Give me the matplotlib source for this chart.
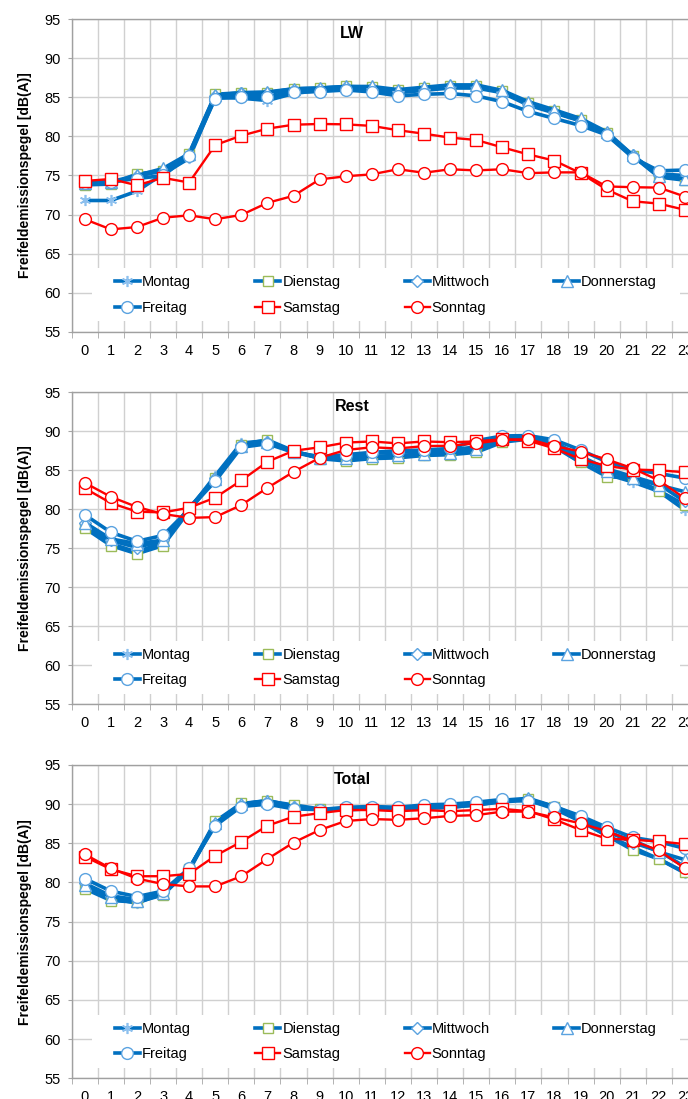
import matplotlib
matplotlib.use("Agg")
import matplotlib.pyplot as plt
from matplotlib.patches import Rectangle
import numpy as np

plt.rcParams['font.family'] = ['Liberation Sans', 'DejaVu Sans']

hours = list(range(24))
hour_labels = [str(h) for h in hours]
y_ticks = [55, 60, 65, 70, 75, 80, 85, 90, 95]
series_names = ["Montag", "Dienstag", "Mittwoch", "Donnerstag", "Freitag", "Samstag", "Sonntag"]
panel_titles = ["LW", "Rest", "Total"]
y_label = "Freifeldemissionspegel [dB(A)]"

# ---- LW ----
lw_montag = [71.8, 71.8, 73.0, 75.2, 77.2, 85.0, 84.9, 84.6, 85.5, 85.9, 86.1, 86.0, 85.6, 85.9, 86.2, 86.2, 85.6, 84.0, 83.0, 82.0, 80.3, 77.4, 75.2, 75.0]
lw_dienstag = [73.8, 73.9, 75.2, 75.6, 77.8, 85.4, 85.6, 85.6, 86.1, 86.2, 86.4, 86.3, 85.9, 86.2, 86.5, 86.5, 85.8, 84.3, 83.2, 82.1, 80.4, 77.5, 74.8, 74.4]
lw_mittwoch = [74.0, 74.1, 74.9, 75.6, 77.6, 85.2, 85.5, 85.5, 86.0, 86.1, 86.3, 86.2, 85.8, 86.1, 86.4, 86.4, 85.7, 84.2, 83.1, 82.0, 80.4, 77.6, 75.0, 74.8]
lw_donnerstag = [74.1, 74.2, 75.0, 75.9, 77.8, 85.3, 85.6, 85.7, 86.1, 86.2, 86.4, 86.4, 86.0, 86.3, 86.6, 86.6, 85.9, 84.45, 83.4, 82.3, 80.6, 77.6, 74.9, 74.6]
lw_freitag = [74.0, 74.2, 74.6, 75.0, 77.5, 84.85, 85.1, 85.1, 85.65, 85.75, 85.95, 85.7, 85.2, 85.4, 85.5, 85.2, 84.45, 83.2, 82.3, 81.4, 80.2, 77.3, 75.6, 75.7]
lw_samstag = [74.3, 74.55, 73.75, 74.7, 74.1, 78.9, 80.1, 81.0, 81.5, 81.6, 81.55, 81.35, 80.8, 80.35, 79.85, 79.55, 78.6, 77.7, 76.9, 75.3, 73.2, 71.7, 71.4, 70.6]
lw_sonntag = [69.4, 68.1, 68.4, 69.6, 69.9, 69.4, 69.95, 71.5, 72.4, 74.5, 74.9, 75.15, 75.8, 75.35, 75.8, 75.65, 75.8, 75.3, 75.4, 75.4, 73.6, 73.5, 73.45, 72.3]

# ---- Rest ----
rest_montag = [77.8, 75.6, 74.5, 75.8, 80.0, 84.3, 88.5, 88.8, 87.4, 86.6, 86.4, 86.7, 86.8, 87.0, 87.1, 87.6, 88.9, 89.1, 88.2, 86.0, 84.5, 83.5, 82.3, 79.9]
rest_dienstag = [77.6, 75.35, 74.3, 75.35, 79.8, 84.0, 88.3, 88.9, 87.5, 86.5, 86.2, 86.5, 86.6, 86.9, 87.0, 87.3, 88.6, 89.0, 88.0, 86.0, 84.2, 84.0, 82.4, 80.55]
rest_mittwoch = [78.2, 76.0, 75.1, 76.0, 80.1, 84.0, 88.2, 88.6, 87.4, 86.7, 86.9, 87.2, 87.3, 87.5, 87.6, 88.0, 89.2, 89.3, 88.6, 86.8, 85.2, 84.2, 83.2, 81.0]
rest_donnerstag = [78.3, 76.2, 75.6, 76.05, 80.2, 83.9, 88.1, 88.6, 87.3, 86.6, 86.6, 86.8, 86.9, 87.1, 87.2, 87.7, 89.1, 89.2, 88.4, 86.5, 84.9, 84.0, 83.1, 82.25]
rest_freitag = [79.3, 77.05, 75.9, 76.65, 80.0, 83.6, 87.95, 88.4, 87.3, 86.75, 87.0, 87.3, 87.5, 87.6, 87.8, 88.8, 89.4, 89.45, 88.9, 87.6, 86.1, 85.1, 84.6, 84.0]
rest_samstag = [82.7, 80.8, 79.7, 79.6, 80.2, 81.5, 83.7, 86.1, 87.5, 87.95, 88.55, 88.7, 88.45, 88.7, 88.6, 88.7, 89.0, 88.8, 87.8, 86.45, 85.55, 85.1, 85.0, 84.75]
rest_sonntag = [83.4, 81.6, 80.3, 79.4, 78.9, 79.0, 80.55, 82.75, 84.8, 86.6, 87.6, 87.95, 87.8, 88.1, 88.15, 88.45, 88.9, 89.0, 88.1, 87.4, 86.4, 85.25, 83.7, 81.4]

# ---- Total ----
total_montag = [79.5, 78.0, 77.35, 78.6, 81.5, 87.6, 90.0, 90.5, 89.7, 89.3, 89.3, 89.4, 89.3, 89.5, 89.6, 89.9, 90.3, 90.5, 89.4, 87.8, 86.0, 84.5, 83.0, 81.2]
total_dienstag = [79.2, 77.7, 77.5, 78.4, 81.7, 87.8, 90.1, 90.4, 89.9, 89.4, 89.3, 89.4, 89.3, 89.5, 89.6, 89.9, 90.4, 90.6, 89.6, 87.9, 86.0, 84.15, 83.0, 81.3]
total_mittwoch = [79.9, 78.3, 77.8, 78.8, 81.8, 87.5, 89.9, 90.3, 89.6, 89.3, 89.4, 89.5, 89.4, 89.6, 89.7, 90.0, 90.4, 90.6, 89.7, 88.3, 86.6, 85.1, 84.0, 82.0]
total_donnerstag = [79.7, 78.2, 77.7, 78.7, 81.7, 87.6, 90.0, 90.4, 89.7, 89.3, 89.4, 89.5, 89.4, 89.6, 89.7, 90.0, 90.5, 90.75, 89.7, 88.1, 86.4, 85.4, 83.9, 82.9]
total_freitag = [80.5, 78.9, 78.2, 78.9, 81.8, 87.25, 89.7, 90.0, 89.4, 89.3, 89.6, 89.7, 89.6, 89.9, 90.0, 90.25, 90.6, 90.4, 89.7, 88.5, 87.05, 85.75, 85.2, 84.35]
total_samstag = [83.3, 81.7, 80.8, 80.8, 81.1, 83.4, 85.2, 87.25, 88.4, 88.85, 89.25, 89.25, 89.1, 89.25, 89.1, 89.25, 89.4, 89.1, 88.05, 86.7, 85.6, 85.45, 85.25, 84.9]
total_sonntag = [83.6, 81.8, 80.5, 79.8, 79.5, 79.5, 80.8, 83.0, 85.1, 86.7, 87.85, 88.1, 88.0, 88.2, 88.5, 88.6, 89.05, 89.05, 88.3, 87.55, 86.55, 85.3, 84.1, 81.8]

panels = [
    [lw_montag, lw_dienstag, lw_mittwoch, lw_donnerstag, lw_freitag, lw_samstag, lw_sonntag],
    [rest_montag, rest_dienstag, rest_mittwoch, rest_donnerstag, rest_freitag, rest_samstag, rest_sonntag],
    [total_montag, total_dienstag, total_mittwoch, total_donnerstag, total_freitag, total_samstag, total_sonntag],
]

BLUE = "#0070C0"
LBLUE = "#5BA3E0"
RED = "#FF0000"
GREEN = "#9BBB59"
styles = [
    dict(color=BLUE, lw=2.6, marker=(6, 2, 0), ms=8, mec="#8DC0EE", mfc="#8DC0EE", mew=1.2),
    dict(color=BLUE, lw=2.6, marker="s", ms=7.5, mec=GREEN, mfc="white", mew=1.0),
    dict(color=BLUE, lw=2.6, marker="D", ms=6.5, mec=LBLUE, mfc="white", mew=1.0),
    dict(color=BLUE, lw=2.6, marker="^", ms=8, mec=LBLUE, mfc="white", mew=1.0),
    dict(color=BLUE, lw=2.6, marker="o", ms=8.5, mec=LBLUE, mfc="white", mew=1.0),
    dict(color=RED, lw=1.7, marker="s", ms=8.5, mec=RED, mfc="white", mew=1.0),
    dict(color=RED, lw=1.7, marker="o", ms=8.5, mec=RED, mfc="white", mew=1.0),
]
# legend order so that rows read Montag..Donnerstag / Freitag..Sonntag (matplotlib fills columns)
legend_order = [0, 4, 1, 5, 2, 6, 3]

W, H = 688, 1099
fig = plt.figure(figsize=(W / 100, H / 100), dpi=100)

ax_left_px, ax_right_px = 71.7, 698.0
tops = [19.3, 392.3, 765.0]
bottoms = [331.7, 704.3, 1078.3]
aw = ax_right_px - ax_left_px

for p in range(3):
    left = ax_left_px / W
    width = aw / W
    bottom = 1 - bottoms[p] / H
    height = (bottoms[p] - tops[p]) / H
    ax = fig.add_axes([left, bottom, width, height])
    ax.set_axisbelow(True)
    ax.set_xlim(-0.5, 23.5)
    ax.set_ylim(55, 95)
    ax.set_yticks(y_ticks)
    ax.set_yticklabels([str(v) for v in y_ticks])
    ax.set_xticks(hours)
    ax.set_xticklabels(hour_labels)
    ax.set_xticks(np.arange(-0.5, 24.0, 1.0), minor=True)
    ax.tick_params(axis="x", which="major", length=0, pad=8.5, labelsize=10.5, colors="#000000")
    ax.tick_params(axis="x", which="minor", length=4, color="#A6A6A6")
    ax.tick_params(axis="y", which="major", length=3, color="#A6A6A6", pad=5, labelsize=10.5)
    ax.grid(True, which="minor", axis="x", color="#D0D0D0", lw=1.0)
    ax.grid(True, which="major", axis="y", color="#D0D0D0", lw=1.0)
    ax.grid(False, which="major", axis="x")
    for s in ["left", "bottom", "top"]:
        ax.spines[s].set_color("#A0A0A0")
        ax.spines[s].set_linewidth(1.0)
    ax.spines["right"].set_visible(False)

    # white legend background covering gridlines
    x0 = (92 - ax_left_px) / aw
    x1 = (680 - ax_left_px) / aw
    ph = bottoms[p] - tops[p]
    y0 = 10.5 / ph
    y1 = 63.5 / ph
    ax.add_patch(Rectangle((x0, y0), x1 - x0, y1 - y0, transform=ax.transAxes,
                           facecolor="white", edgecolor="none", zorder=1))

    lines = []
    for name, vals, st in zip(series_names, panels[p], styles):
        ln, = ax.plot(hours, vals, label=name, color=st["color"], lw=st["lw"], marker=st["marker"],
                      markersize=st["ms"], markeredgecolor=st["mec"], markerfacecolor=st["mfc"],
                      markeredgewidth=st["mew"], zorder=3, clip_on=False)
        lines.append(ln)

    lx0 = (115 - ax_left_px) / aw
    lx1 = (657 - ax_left_px) / aw
    lyc = 36.7 / ph
    leg = ax.legend([lines[i] for i in legend_order], [series_names[i] for i in legend_order],
                    loc="center", bbox_to_anchor=(lx0, lyc - 0.05, lx1 - lx0, 0.1), mode="expand",
                    ncol=4, frameon=False, borderpad=0, borderaxespad=0, fontsize=10.5,
                    handlelength=1.7, handletextpad=0.15, labelspacing=0.78, columnspacing=1.0)
    leg.set_zorder(5)

    ax.text((352 - ax_left_px) / aw, 1 - 14.5 / ph, panel_titles[p],
            transform=ax.transAxes, ha="center", va="center", fontsize=11.5, fontweight="bold")
    ax.set_ylabel(y_label, fontsize=10, fontweight="bold")
    ax.yaxis.set_label_coords((32 - ax_left_px) / aw, 0.5)

fig.savefig("out.png", dpi=100)
